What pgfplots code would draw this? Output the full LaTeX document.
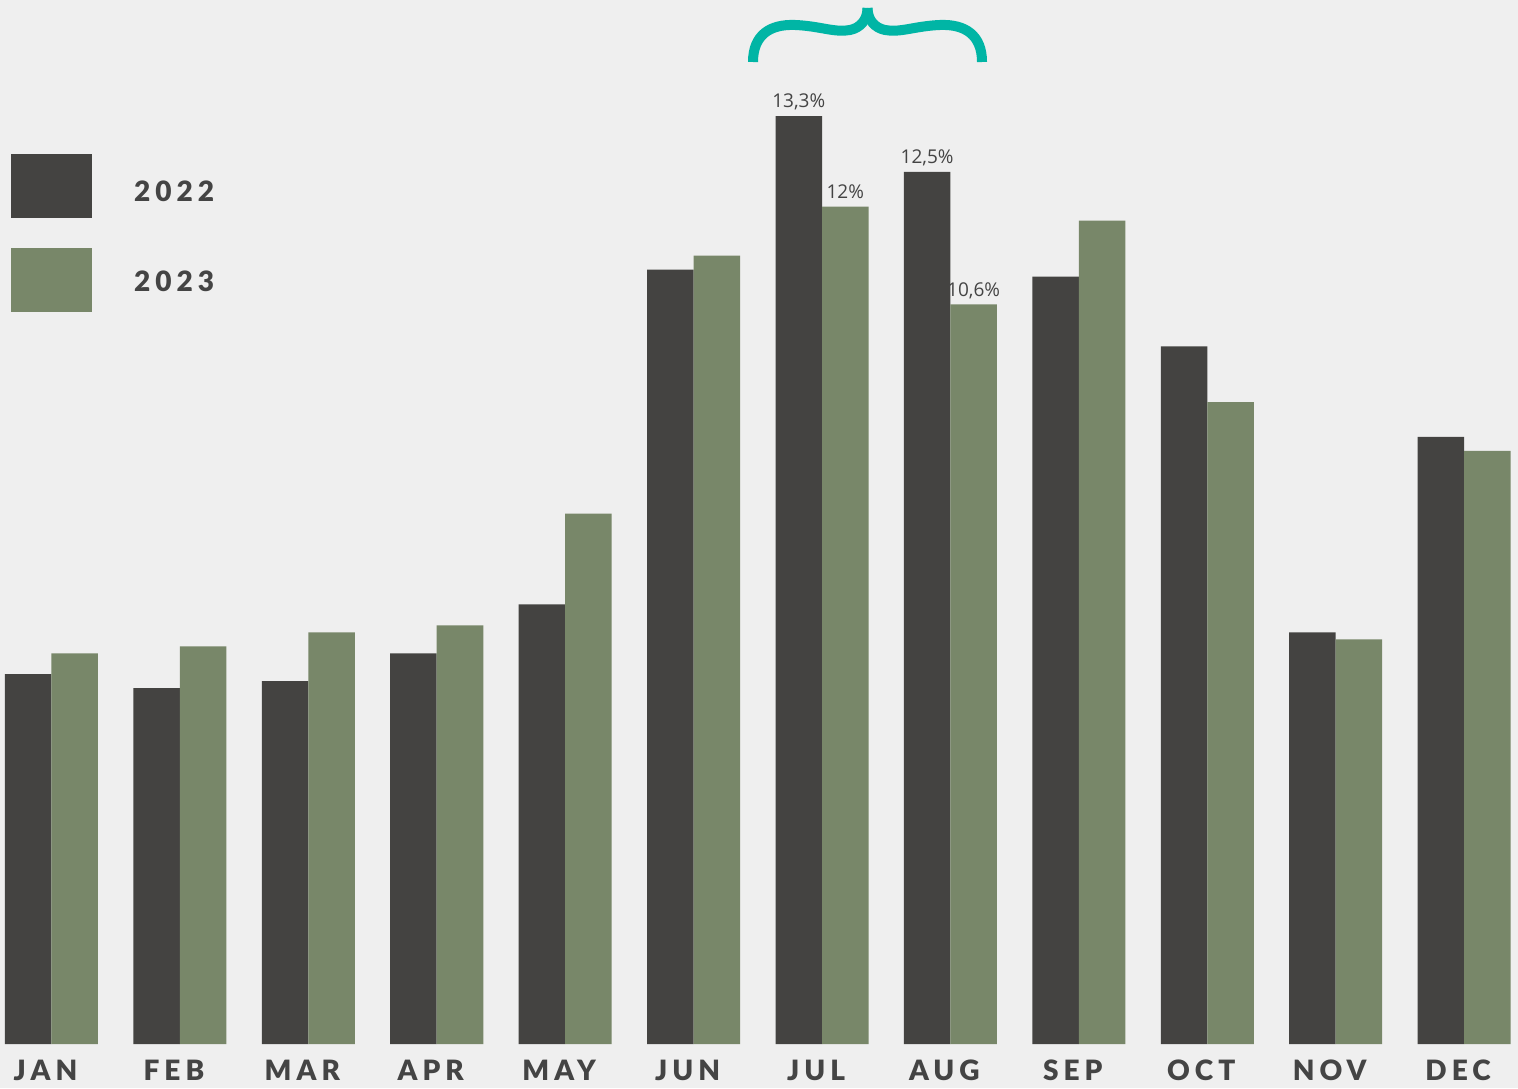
\documentclass[border=0pt]{standalone}
\usepackage{fontspec}
\usepackage{pgfplots}
\pgfplotsset{compat=1.18}
\usetikzlibrary{backgrounds}
\newfontfamily\lato[LetterSpace=18]{Lato Black}
\newfontfamily\opensans{Open Sans}
\definecolor{bgc}{HTML}{EFEFEF}
\definecolor{c22}{HTML}{444341}
\definecolor{c23}{HTML}{788769}
\definecolor{txt}{HTML}{444444}
\definecolor{teal}{HTML}{00B5A5}

\begin{document}
\begin{tikzpicture}[show background rectangle,
  background rectangle/.style={fill=bgc,draw=none}, inner frame sep=0pt]
\useasboundingbox (0,-22pt) rectangle (759pt,522pt);
\begin{axis}[
    at={(0,0)}, anchor=south west,
    scale only axis, width=759pt, height=522pt,
    xmin=-0.401, xmax=11.42, ymin=0, ymax=14.963,
    enlargelimits=false, clip=false,
    axis line style={draw=none}, major tick length=0pt,
    ytick=\empty,
    xtick={0,...,11},
    xticklabels={JAN,FEB,MAR,APR,MAY,JUN,JUL,AUG,SEP,OCT,NOV,DEC},
    xticklabel style={font=\lato\fontsize{14}{16}\selectfont, text=txt,
      anchor=base, yshift=-18pt, xshift=-3pt},
    ybar=0pt, bar width=23.25pt,
    point meta=explicit symbolic,
    nodes near coords={\pgfplotspointmeta},
    nodes near coords style={font=\opensans\fontsize{9.5}{11}\selectfont, text=txt,
      anchor=base, yshift=4.2pt, inner sep=0pt},
    legend style={at={(0.00725,0.8525)}, anchor=north west, draw=none, fill=none,
      inner sep=0pt, outer sep=0pt, row sep=15pt, column sep=21pt,
      font=\lato\fontsize{14}{16}\selectfont, text=txt,
      nodes={inner sep=0pt}},
    legend cell align=left,
    legend image code/.code={\fill[#1] (0pt,-12.5pt) rectangle (40.5pt,19.5pt);},
]
% 2022
\addplot[fill=c22, draw=none] coordinates {
    (0,5.3)[] (1,5.1)[] (2,5.2)[] (3,5.6)[] (4,6.3)[] (5,11.1)[]
    (6,13.3)[13{,}3\%] (7,12.5)[12{,}5\%] (8,11.0)[] (9,10.0)[] (10,5.9)[] (11,8.7)[]
};
\addlegendentry{2022}
% 2023
\addplot[fill=c23, draw=none] coordinates {
    (0,5.6)[] (1,5.7)[] (2,5.9)[] (3,6.0)[] (4,7.6)[] (5,11.3)[]
    (6,12.0)[12\%] (7,10.6)[10{,}6\%] (8,11.8)[] (9,9.2)[] (10,5.8)[] (11,8.5)[]
};
\addlegendentry{\raisebox{4pt}{2023}}
\end{axis}
% brace over JUL-AUG
\draw[teal, line width=5pt, line cap=butt]
  (376.5pt,491pt) .. controls (376.5pt,504.5pt) and (385pt,510pt) .. (397.5pt,509.5pt)
  .. controls (410pt,509pt) and (417.5pt,505.5pt) .. (425pt,507pt)
  .. controls (430pt,508pt) and (433.75pt,512pt) .. (433.75pt,518pt);
\draw[teal, line width=5pt, line cap=butt]
  (433.75pt,518pt) .. controls (433.75pt,512pt) and (437.5pt,508pt) .. (442.5pt,507pt)
  .. controls (450pt,505.5pt) and (457.5pt,509pt) .. (470pt,509.5pt)
  .. controls (482.5pt,510pt) and (491pt,504.5pt) .. (491pt,491pt);
\end{tikzpicture}
\end{document}
